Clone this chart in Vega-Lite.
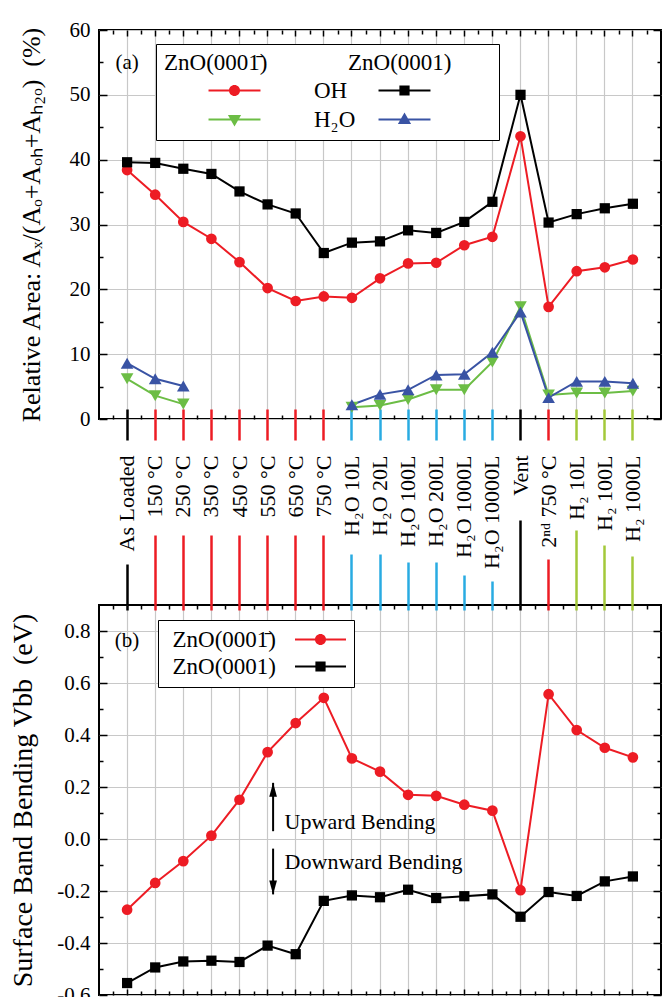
{
  "$schema": "https://vega.github.io/schema/vega-lite/v6.json",
  "padding": {"left": 8, "top": 18, "right": 5, "bottom": 0},
  "background": "white",
  "config": {
    "font": "Liberation Serif",
    "view": {"stroke": "black", "strokeWidth": 2},
    "axis": {"domain": false, "labelFont": "Liberation Serif", "titleFont": "Liberation Serif", "labelColor": "black", "titleColor": "black", "tickColor": "black", "gridColor": "#c8c8c8", "gridWidth": 1.2, "titleFontWeight": "normal", "tickWidth": 1.5, "labelFlush": false, "labelOverlap": false, "labelBound": false},
    "legend": {"labelFont": "Liberation Serif", "titleFont": "Liberation Serif", "labelColor": "black", "titleColor": "black", "titleFontWeight": "normal", "labelLimit": 0, "titleLimit": 0, "symbolStrokeWidth": 0, "symbolOpacity": 1, "symbolSize": 144}
  },
  "datasets": {
    "area": [
      {"cat": "As Loaded", "s": "OH_a", "v": 38.4}, {"cat": "150 °C", "s": "OH_a", "v": 34.6}, {"cat": "250 °C", "s": "OH_a", "v": 30.4}, {"cat": "350 °C", "s": "OH_a", "v": 27.8}, {"cat": "450 °C", "s": "OH_a", "v": 24.2}, {"cat": "550 °C", "s": "OH_a", "v": 20.2}, {"cat": "650 °C", "s": "OH_a", "v": 18.2}, {"cat": "750 °C", "s": "OH_a", "v": 18.9}, {"cat": "H₂O 10L", "s": "OH_a", "v": 18.7}, {"cat": "H₂O 20L", "s": "OH_a", "v": 21.7}, {"cat": "H₂O 100L", "s": "OH_a", "v": 24.0}, {"cat": "H₂O 200L", "s": "OH_a", "v": 24.1}, {"cat": "H₂O 1000L", "s": "OH_a", "v": 26.8}, {"cat": "H₂O 10000L", "s": "OH_a", "v": 28.1}, {"cat": "Vent", "s": "OH_a", "v": 43.6}, {"cat": "2ⁿᵈ 750 °C", "s": "OH_a", "v": 17.3}, {"cat": "H₂ 10L", "s": "OH_a", "v": 22.8}, {"cat": "H₂ 100L", "s": "OH_a", "v": 23.4}, {"cat": "H₂ 1000L", "s": "OH_a", "v": 24.6},
      {"cat": "As Loaded", "s": "OH_b", "v": 39.6}, {"cat": "150 °C", "s": "OH_b", "v": 39.5}, {"cat": "250 °C", "s": "OH_b", "v": 38.6}, {"cat": "350 °C", "s": "OH_b", "v": 37.8}, {"cat": "450 °C", "s": "OH_b", "v": 35.1}, {"cat": "550 °C", "s": "OH_b", "v": 33.1}, {"cat": "650 °C", "s": "OH_b", "v": 31.7}, {"cat": "750 °C", "s": "OH_b", "v": 25.6}, {"cat": "H₂O 10L", "s": "OH_b", "v": 27.2}, {"cat": "H₂O 20L", "s": "OH_b", "v": 27.4}, {"cat": "H₂O 100L", "s": "OH_b", "v": 29.1}, {"cat": "H₂O 200L", "s": "OH_b", "v": 28.7}, {"cat": "H₂O 1000L", "s": "OH_b", "v": 30.4}, {"cat": "H₂O 10000L", "s": "OH_b", "v": 33.5}, {"cat": "Vent", "s": "OH_b", "v": 50.0}, {"cat": "2ⁿᵈ 750 °C", "s": "OH_b", "v": 30.3}, {"cat": "H₂ 10L", "s": "OH_b", "v": 31.6}, {"cat": "H₂ 100L", "s": "OH_b", "v": 32.5}, {"cat": "H₂ 1000L", "s": "OH_b", "v": 33.2},
      {"cat": "As Loaded", "s": "H2O_a", "v": 6.2, "seg": 1}, {"cat": "150 °C", "s": "H2O_a", "v": 3.6, "seg": 1}, {"cat": "250 °C", "s": "H2O_a", "v": 2.3, "seg": 1}, {"cat": "H₂O 10L", "s": "H2O_a", "v": 1.8, "seg": 2}, {"cat": "H₂O 20L", "s": "H2O_a", "v": 2.1, "seg": 2}, {"cat": "H₂O 100L", "s": "H2O_a", "v": 3.0, "seg": 2}, {"cat": "H₂O 200L", "s": "H2O_a", "v": 4.5, "seg": 2}, {"cat": "H₂O 1000L", "s": "H2O_a", "v": 4.5, "seg": 2}, {"cat": "H₂O 10000L", "s": "H2O_a", "v": 8.8, "seg": 2}, {"cat": "Vent", "s": "H2O_a", "v": 17.3, "seg": 2}, {"cat": "2ⁿᵈ 750 °C", "s": "H2O_a", "v": 3.7, "seg": 2}, {"cat": "H₂ 10L", "s": "H2O_a", "v": 4.0, "seg": 2}, {"cat": "H₂ 100L", "s": "H2O_a", "v": 4.0, "seg": 2}, {"cat": "H₂ 1000L", "s": "H2O_a", "v": 4.3, "seg": 2},
      {"cat": "As Loaded", "s": "H2O_b", "v": 8.6, "seg": 1}, {"cat": "150 °C", "s": "H2O_b", "v": 6.2, "seg": 1}, {"cat": "250 °C", "s": "H2O_b", "v": 5.1, "seg": 1}, {"cat": "H₂O 10L", "s": "H2O_b", "v": 2.2, "seg": 2}, {"cat": "H₂O 20L", "s": "H2O_b", "v": 3.8, "seg": 2}, {"cat": "H₂O 100L", "s": "H2O_b", "v": 4.5, "seg": 2}, {"cat": "H₂O 200L", "s": "H2O_b", "v": 6.8, "seg": 2}, {"cat": "H₂O 1000L", "s": "H2O_b", "v": 6.9, "seg": 2}, {"cat": "H₂O 10000L", "s": "H2O_b", "v": 10.3, "seg": 2}, {"cat": "Vent", "s": "H2O_b", "v": 16.5, "seg": 2}, {"cat": "2ⁿᵈ 750 °C", "s": "H2O_b", "v": 3.3, "seg": 2}, {"cat": "H₂ 10L", "s": "H2O_b", "v": 5.8, "seg": 2}, {"cat": "H₂ 100L", "s": "H2O_b", "v": 5.8, "seg": 2}, {"cat": "H₂ 1000L", "s": "H2O_b", "v": 5.5, "seg": 2}
    ],
    "bend": [
      {"cat": "As Loaded", "s": "V_a", "v": -0.272}, {"cat": "150 °C", "s": "V_a", "v": -0.169}, {"cat": "250 °C", "s": "V_a", "v": -0.085}, {"cat": "350 °C", "s": "V_a", "v": 0.013}, {"cat": "450 °C", "s": "V_a", "v": 0.151}, {"cat": "550 °C", "s": "V_a", "v": 0.334}, {"cat": "650 °C", "s": "V_a", "v": 0.446}, {"cat": "750 °C", "s": "V_a", "v": 0.543}, {"cat": "H₂O 10L", "s": "V_a", "v": 0.310}, {"cat": "H₂O 20L", "s": "V_a", "v": 0.259}, {"cat": "H₂O 100L", "s": "V_a", "v": 0.170}, {"cat": "H₂O 200L", "s": "V_a", "v": 0.166}, {"cat": "H₂O 1000L", "s": "V_a", "v": 0.132}, {"cat": "H₂O 10000L", "s": "V_a", "v": 0.109}, {"cat": "Vent", "s": "V_a", "v": -0.197}, {"cat": "2ⁿᵈ 750 °C", "s": "V_a", "v": 0.557}, {"cat": "H₂ 10L", "s": "V_a", "v": 0.419}, {"cat": "H₂ 100L", "s": "V_a", "v": 0.351}, {"cat": "H₂ 1000L", "s": "V_a", "v": 0.314},
      {"cat": "As Loaded", "s": "V_b", "v": -0.554}, {"cat": "150 °C", "s": "V_b", "v": -0.494}, {"cat": "250 °C", "s": "V_b", "v": -0.471}, {"cat": "350 °C", "s": "V_b", "v": -0.468}, {"cat": "450 °C", "s": "V_b", "v": -0.473}, {"cat": "550 °C", "s": "V_b", "v": -0.410}, {"cat": "650 °C", "s": "V_b", "v": -0.443}, {"cat": "750 °C", "s": "V_b", "v": -0.238}, {"cat": "H₂O 10L", "s": "V_b", "v": -0.217}, {"cat": "H₂O 20L", "s": "V_b", "v": -0.224}, {"cat": "H₂O 100L", "s": "V_b", "v": -0.195}, {"cat": "H₂O 200L", "s": "V_b", "v": -0.227}, {"cat": "H₂O 1000L", "s": "V_b", "v": -0.220}, {"cat": "H₂O 10000L", "s": "V_b", "v": -0.213}, {"cat": "Vent", "s": "V_b", "v": -0.299}, {"cat": "2ⁿᵈ 750 °C", "s": "V_b", "v": -0.204}, {"cat": "H₂ 10L", "s": "V_b", "v": -0.219}, {"cat": "H₂ 100L", "s": "V_b", "v": -0.163}, {"cat": "H₂ 1000L", "s": "V_b", "v": -0.144}
    ],
    "species": [{"sp": "OH"}, {"sp": "H2O"}],
    "faces": [{"s": "V_a"}, {"s": "V_b"}],
    "arrows": [
      {"cat": "550 °C", "from": 0.03, "to": 0.216, "dir": "up"},
      {"cat": "550 °C", "from": -0.037, "to": -0.213, "dir": "down"}
    ],
    "notes_a": [{"cat": "As Loaded", "v": 54.9, "t": "(a)"}],
    "notes_b": [
      {"cat": "As Loaded", "v": 0.76, "t": "(b)", "k": "tag"},
      {"cat": "550 °C", "v": 0.037, "t": "Upward Bending", "k": "note"},
      {"cat": "550 °C", "v": -0.114, "t": "Downward Bending", "k": "note"}
    ]
  },
  "spacing": 186,
  "bounds": "flush",
  "resolve": {"scale": {"x": "independent", "y": "independent", "color": "independent", "shape": "independent", "size": "independent"}, "legend": {"color": "independent", "shape": "independent"}},
  "vconcat": [
    {
      "width": 562,
      "height": 389,
      "resolve": {"axis": {"x": "independent", "y": "independent"}, "scale": {"color": "independent", "shape": "independent", "size": "independent"}, "legend": {"color": "independent", "shape": "independent"}},
      "layer": [
        {
          "data": {"name": "area"},
          "transform": [{"filter": "datum.s == 'OH_a'"}],
          "mark": {"type": "line", "color": "#ed1c24", "strokeWidth": 2},
          "encoding": {
            "x": {"field": "cat", "type": "ordinal",
              "scale": {"type": "band", "domain": ["As Loaded", "150 °C", "250 °C", "350 °C", "450 °C", "550 °C", "650 °C", "750 °C", "H₂O 10L", "H₂O 20L", "H₂O 100L", "H₂O 200L", "H₂O 1000L", "H₂O 10000L", "Vent", "2ⁿᵈ 750 °C", "H₂ 10L", "H₂ 100L", "H₂ 1000L"], "paddingInner": 0, "paddingOuter": 0.5},
              "axis": {"orient": "bottom", "title": null, "grid": true, "tickBand": "center", "ticks": true, "tickSize": 21, "tickWidth": 2.5,
                "tickColor": {"expr": "datum.value == 'As Loaded' || datum.value == 'Vent' ? '#000000' : indexof(datum.value, 'H₂O') >= 0 ? '#29abe2' : indexof(datum.value, 'H₂') >= 0 ? '#a3c93a' : '#ed1c24'"},
                "labelAngle": 270, "labelAlign": "right", "labelBaseline": "middle", "labelPadding": 15, "labelFontSize": 22, "labelLimit": 0}},
            "y": {"field": "v", "type": "quantitative", "scale": {"domain": [0, 60], "nice": false, "zero": false},
              "axis": {"orient": "left", "values": [0, 10, 20, 30, 40, 50, 60], "grid": true, "tickSize": -8, "labelPadding": 17, "labelFontSize": 21,
                "title": "Relative Area: Aₓ/(Aₒ+Aₒₕ+Aₕ₂ₒ)\u00a0\u00a0(%)", "titleFontSize": 26, "titlePadding": 25}}
          }
        },
        {
          "data": {"name": "area"},
          "transform": [{"filter": "datum.s == 'OH_b'"}],
          "mark": {"type": "line", "color": "#000000", "strokeWidth": 2},
          "encoding": {
            "x": {"field": "cat", "type": "ordinal", "axis": {"orient": "bottom", "title": null, "labels": false, "grid": false, "tickBand": "extent", "tickSize": -4}},
            "y": {"field": "v", "type": "quantitative", "axis": {"orient": "left", "title": null, "labels": false, "grid": false, "values": [5, 15, 25, 35, 45, 55], "tickSize": -4}}
          }
        },
        {
          "data": {"name": "area"},
          "transform": [{"filter": "datum.s == 'H2O_a'"}],
          "mark": {"type": "line", "color": "#6cbd45", "strokeWidth": 2},
          "encoding": {
            "x": {"field": "cat", "type": "ordinal", "axis": {"orient": "top", "title": null, "labels": false, "grid": false, "tickBand": "center", "tickSize": -6}},
            "y": {"field": "v", "type": "quantitative", "axis": {"orient": "right", "title": null, "labels": false, "grid": false, "values": [0, 10, 20, 30, 40, 50, 60], "tickSize": -8}},
            "detail": {"field": "seg"}
          }
        },
        {
          "data": {"name": "area"},
          "transform": [{"filter": "datum.s == 'H2O_b'"}],
          "mark": {"type": "line", "color": "#3953a4", "strokeWidth": 2},
          "encoding": {
            "x": {"field": "cat", "type": "ordinal", "axis": {"orient": "top", "title": null, "labels": false, "grid": false, "tickBand": "extent", "tickSize": -4}},
            "y": {"field": "v", "type": "quantitative", "axis": {"orient": "right", "title": null, "labels": false, "grid": false, "values": [5, 15, 25, 35, 45, 55], "tickSize": -4}},
            "detail": {"field": "seg"}
          }
        },
        {
          "data": {"name": "area"},
          "mark": {"type": "point", "filled": true, "opacity": 1, "strokeWidth": 0},
          "encoding": {
            "x": {"field": "cat", "type": "ordinal",
              "axis": {"orient": "bottom", "title": null, "labels": false, "grid": false, "tickBand": "center", "tickSize": -10, "tickWidth": 2.5,
                "tickColor": {"expr": "datum.value == 'As Loaded' || datum.value == 'Vent' ? '#000000' : indexof(datum.value, 'H₂O') >= 0 ? '#29abe2' : indexof(datum.value, 'H₂') >= 0 ? '#a3c93a' : '#ed1c24'"}}},
            "y": {"field": "v", "type": "quantitative", "axis": null},
            "color": {"field": "s", "type": "nominal", "scale": {"domain": ["OH_a", "OH_b", "H2O_a", "H2O_b"], "range": ["#ed1c24", "#000000", "#6cbd45", "#3953a4"]}, "legend": null},
            "shape": {"field": "s", "type": "nominal", "scale": {"domain": ["OH_a", "OH_b", "H2O_a", "H2O_b"], "range": ["circle", "square", "triangle-down", "triangle-up"]}, "legend": null},
            "size": {"field": "s", "type": "nominal", "scale": {"type": "ordinal", "domain": ["OH_a", "OH_b", "H2O_a", "H2O_b"], "range": [115, 105, 160, 160]}, "legend": null}
          }
        },
        {
          "data": {"name": "species"},
          "mark": {"type": "point", "filled": true, "opacity": 0},
          "encoding": {
            "color": {"field": "sp", "type": "nominal", "scale": {"domain": ["OH", "H2O"], "range": ["#ed1c24", "#6cbd45"]},
              "legend": {"orient": "none", "legendX": 57, "legendY": 14,
                "title": "\u00a0\u00a0\u00a0\u00a0ZnO(0001\u0304)\u00a0\u00a0\u00a0\u00a0\u00a0\u00a0\u00a0\u00a0\u00a0\u00a0\u00a0\u00a0\u00a0\u00a0ZnO(0001)",
                "titleFontSize": 23, "titlePadding": 4, "labelFontSize": 23,
                "labelExpr": "datum.value == 'OH' ? 'OH\u00a0\u00a0\u00a0\u00a0\u00a0\u00a0\u00a0\u00a0\u00a0\u00a0\u00a0\u00a0\u00a0\u00a0\u00a0\u00a0\u00a0\u00a0\u00a0\u00a0\u00a0\u00a0\u00a0\u00a0\u00a0\u200b' : 'H₂O'",
                "symbolOffset": 59, "labelOffset": 68, "rowPadding": 5,
                "padding": 8, "fillColor": "white", "strokeColor": "black"}},
            "shape": {"field": "sp", "type": "nominal", "scale": {"domain": ["OH", "H2O"], "range": ["M-4.33,-0.17H4.33V0.17H-4.33ZM0.92,0A0.92,0.92,0,1,1,-0.92,0A0.92,0.92,0,1,1,0.92,0Z", "M-4.33,-0.17H4.33V0.17H-4.33ZM-1.1,-0.75H1.1L0,1.15Z"]}}
          }
        },
        {
          "data": {"name": "species"},
          "mark": {"type": "point", "filled": true, "opacity": 0},
          "encoding": {
            "color": {"field": "sp", "type": "nominal", "scale": {"domain": ["OH", "H2O"], "range": ["#000000", "#3953a4"]},
              "legend": {"orient": "none", "legendX": 256, "legendY": 41, "title": null,
                "labelFontSize": 23, "labelExpr": "'\u00a0'",
                "symbolOffset": 30, "labelOffset": 4, "rowPadding": 5, "padding": 8}},
            "shape": {"field": "sp", "type": "nominal", "scale": {"domain": ["OH", "H2O"], "range": ["M-4.33,-0.17H4.33V0.17H-4.33ZM-0.85,-0.85H0.85V0.85H-0.85Z", "M-4.33,-0.17H4.33V0.17H-4.33ZM-1.1,0.75L0,-1.15L1.1,0.75Z"]}}
          }
        },
        {
          "data": {"name": "notes_a"},
          "mark": {"type": "text", "fontSize": 21, "align": "center", "baseline": "middle", "color": "black"},
          "encoding": {
            "x": {"field": "cat", "type": "ordinal", "axis": null},
            "y": {"field": "v", "type": "quantitative", "axis": null},
            "text": {"field": "t"}
          }
        }
      ]
    },
    {
      "width": 562,
      "height": 390,
      "resolve": {"axis": {"x": "independent", "y": "independent"}, "scale": {"color": "independent", "shape": "independent", "size": "independent"}, "legend": {"color": "independent", "shape": "independent"}},
      "layer": [
        {
          "mark": {"type": "rule", "strokeDash": [8, 5], "strokeWidth": 2, "color": "#000000"},
          "encoding": {"y": {"datum": 0, "type": "quantitative", "axis": null}}
        },
        {
          "data": {"name": "bend"},
          "transform": [{"filter": "datum.s == 'V_a'"}],
          "mark": {"type": "line", "color": "#ed1c24", "strokeWidth": 2},
          "encoding": {
            "x": {"field": "cat", "type": "ordinal",
              "scale": {"type": "band", "domain": ["As Loaded", "150 °C", "250 °C", "350 °C", "450 °C", "550 °C", "650 °C", "750 °C", "H₂O 10L", "H₂O 20L", "H₂O 100L", "H₂O 200L", "H₂O 1000L", "H₂O 10000L", "Vent", "2ⁿᵈ 750 °C", "H₂ 10L", "H₂ 100L", "H₂ 1000L"], "paddingInner": 0, "paddingOuter": 0.5},
              "axis": {"orient": "bottom", "title": null, "labels": false, "grid": true, "tickBand": "center", "tickSize": -6}},
            "y": {"field": "v", "type": "quantitative", "scale": {"domain": [-0.6, 0.9], "nice": false, "zero": false},
              "axis": {"orient": "left", "values": [-0.6, -0.4, -0.2, 0, 0.2, 0.4, 0.6, 0.8], "grid": true, "tickSize": -8, "labelPadding": 17, "labelFontSize": 21,
                "labelExpr": "(datum.value < 0 ? '-' : '') + format(abs(datum.value), '.1f')",
                "title": "Surface Band Bending Vbb\u00a0\u00a0(eV)", "titleFontSize": 28, "titlePadding": 19}}
          }
        },
        {
          "data": {"name": "bend"},
          "transform": [{"filter": "datum.s == 'V_b'"}],
          "mark": {"type": "line", "color": "#000000", "strokeWidth": 2},
          "encoding": {
            "x": {"field": "cat", "type": "ordinal", "axis": {"orient": "bottom", "title": null, "labels": false, "grid": false, "tickBand": "extent", "tickSize": -4}},
            "y": {"field": "v", "type": "quantitative", "axis": {"orient": "left", "title": null, "labels": false, "grid": false, "values": [-0.5, -0.3, -0.1, 0.1, 0.3, 0.5, 0.7], "tickSize": -4}}
          }
        },
        {
          "data": {"name": "arrows"},
          "mark": {"type": "rule", "strokeWidth": 2, "color": "#000000", "xOffset": 5.5},
          "encoding": {
            "x": {"field": "cat", "type": "ordinal",
              "axis": {"orient": "top", "title": null, "labels": false, "grid": false, "tickBand": "center", "tickWidth": 2.5,
                "tickSize": {"expr": "[41,70,70,70,70,70,70,70,51,51,43,43,30,24,85,46,75,60,49][indexof(['As Loaded','150 °C','250 °C','350 °C','450 °C','550 °C','650 °C','750 °C','H₂O 10L','H₂O 20L','H₂O 100L','H₂O 200L','H₂O 1000L','H₂O 10000L','Vent','2ⁿᵈ 750 °C','H₂ 10L','H₂ 100L','H₂ 1000L'], datum.value)]"},
                "tickColor": {"expr": "datum.value == 'As Loaded' || datum.value == 'Vent' ? '#000000' : indexof(datum.value, 'H₂O') >= 0 ? '#29abe2' : indexof(datum.value, 'H₂') >= 0 ? '#a3c93a' : '#ed1c24'"}}},
            "y": {"field": "from", "type": "quantitative", "axis": {"orient": "right", "title": null, "labels": false, "grid": false, "values": [-0.6, -0.4, -0.2, 0, 0.2, 0.4, 0.6, 0.8], "tickSize": -8}},
            "y2": {"field": "to"}
          }
        },
        {
          "data": {"name": "arrows"},
          "transform": [{"filter": "datum.dir == 'up'"}],
          "mark": {"type": "point", "filled": true, "opacity": 1, "color": "#000000", "strokeWidth": 0, "size": 196, "xOffset": 5.5, "shape": "M0,0L-0.55,2L0.55,2Z"},
          "encoding": {
            "x": {"field": "cat", "type": "ordinal", "axis": {"orient": "top", "title": null, "labels": false, "grid": false, "tickBand": "extent", "tickSize": -4}},
            "y": {"field": "to", "type": "quantitative", "axis": {"orient": "right", "title": null, "labels": false, "grid": false, "values": [-0.5, -0.3, -0.1, 0.1, 0.3, 0.5, 0.7], "tickSize": -4}}
          }
        },
        {
          "data": {"name": "arrows"},
          "transform": [{"filter": "datum.dir == 'down'"}],
          "mark": {"type": "point", "filled": true, "opacity": 1, "color": "#000000", "strokeWidth": 0, "size": 196, "xOffset": 5.5, "shape": "M0,0L-0.55,-2L0.55,-2Z"},
          "encoding": {
            "x": {"field": "cat", "type": "ordinal",
              "axis": {"orient": "top", "title": null, "labels": false, "grid": false, "tickBand": "center", "tickSize": -5, "tickWidth": 2.5,
                "tickColor": {"expr": "datum.value == 'As Loaded' || datum.value == 'Vent' ? '#000000' : indexof(datum.value, 'H₂O') >= 0 ? '#29abe2' : indexof(datum.value, 'H₂') >= 0 ? '#a3c93a' : '#ed1c24'"}}},
            "y": {"field": "to", "type": "quantitative", "axis": null}
          }
        },
        {
          "data": {"name": "bend"},
          "mark": {"type": "point", "filled": true, "opacity": 1, "strokeWidth": 0},
          "encoding": {
            "x": {"field": "cat", "type": "ordinal", "axis": null},
            "y": {"field": "v", "type": "quantitative", "axis": null},
            "color": {"field": "s", "type": "nominal", "scale": {"domain": ["V_a", "V_b"], "range": ["#ed1c24", "#000000"]}, "legend": null},
            "shape": {"field": "s", "type": "nominal", "scale": {"domain": ["V_a", "V_b"], "range": ["circle", "square"]}, "legend": null},
            "size": {"field": "s", "type": "nominal", "scale": {"type": "ordinal", "domain": ["V_a", "V_b"], "range": [115, 105]}, "legend": null}
          }
        },
        {
          "data": {"name": "faces"},
          "mark": {"type": "point", "filled": true, "opacity": 0},
          "encoding": {
            "color": {"field": "s", "type": "nominal", "scale": {"domain": ["V_a", "V_b"], "range": ["#ed1c24", "#000000"]},
              "legend": {"orient": "none", "legendX": 59, "legendY": 15, "title": null,
                "labelFontSize": 23,
                "labelExpr": "datum.value == 'V_a' ? 'ZnO(0001\u0304)' : 'ZnO(0001)'",
                "symbolOffset": 143, "labelOffset": -159.5, "rowPadding": 3,
                "padding": 8, "fillColor": "white", "strokeColor": "black"}},
            "shape": {"field": "s", "type": "nominal", "scale": {"domain": ["V_a", "V_b"], "range": ["M-4.25,-0.17H4.25V0.17H-4.25ZM0.92,0A0.92,0.92,0,1,1,-0.92,0A0.92,0.92,0,1,1,0.92,0Z", "M-4.25,-0.17H4.25V0.17H-4.25ZM-0.85,-0.85H0.85V0.85H-0.85Z"]}}
          }
        },
        {
          "data": {"name": "notes_b"},
          "transform": [{"filter": "datum.k == 'tag'"}],
          "mark": {"type": "text", "fontSize": 21, "align": "center", "baseline": "middle", "color": "black"},
          "encoding": {
            "x": {"field": "cat", "type": "ordinal", "axis": null},
            "y": {"field": "v", "type": "quantitative", "axis": null},
            "text": {"field": "t"}
          }
        },
        {
          "data": {"name": "notes_b"},
          "transform": [{"filter": "datum.k == 'note'"}],
          "mark": {"type": "text", "fontSize": 22, "align": "left", "baseline": "alphabetic", "dx": 17, "color": "black"},
          "encoding": {
            "x": {"field": "cat", "type": "ordinal", "axis": null},
            "y": {"field": "v", "type": "quantitative", "axis": null},
            "text": {"field": "t"}
          }
        }
      ]
    }
  ]
}
